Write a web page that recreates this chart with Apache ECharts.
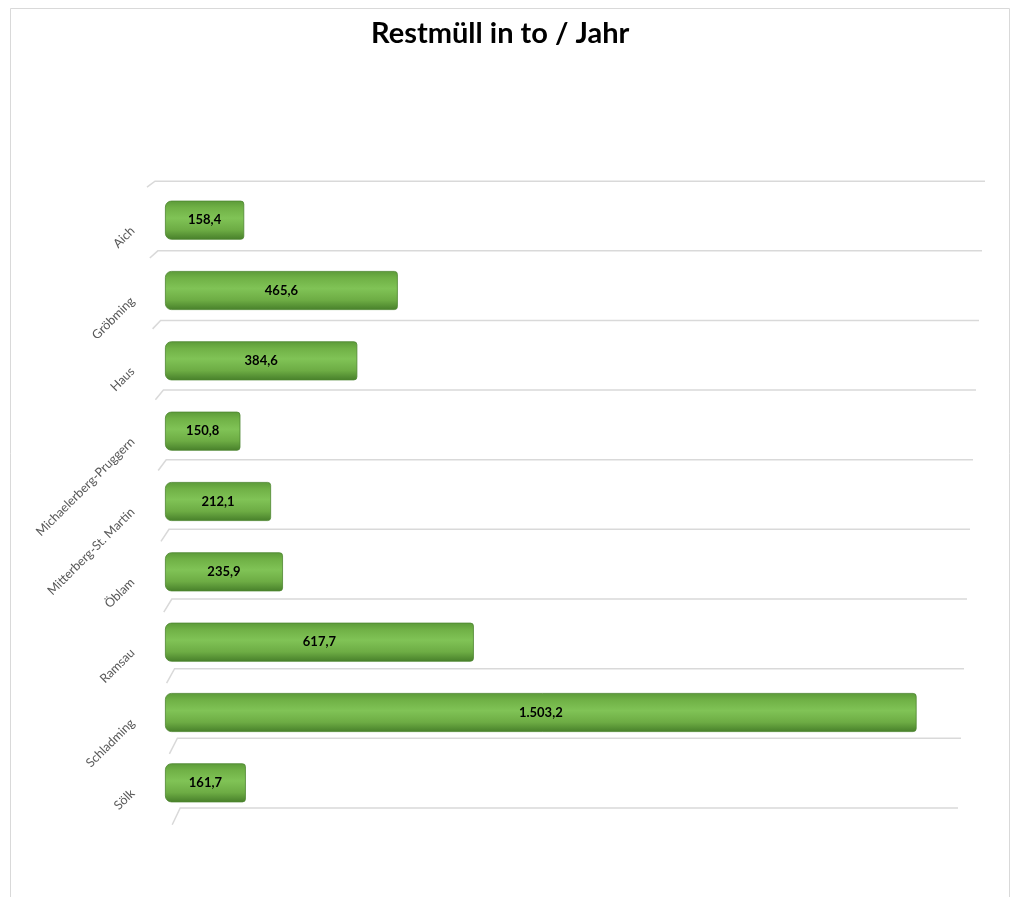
<!DOCTYPE html>
<html>
<head>
<meta charset="utf-8">
<title>Restmüll in to / Jahr</title>
<script src="https://cdn.jsdelivr.net/npm/echarts@6/dist/echarts.min.js"></script>
<style>
  html, body { margin: 0; padding: 0; background: #ffffff; }
  #chart { width: 1012px; height: 897px; }
</style>
</head>
<body>
<div id="chart"></div>
<script>
// Gemeinden (categories) and yearly residual waste in tonnes
const gemeinden = [
  'Aich', 'Gröbming', 'Haus', 'Michaelerberg-Pruggern', 'Mitterberg-St. Martin',
  'Öblam', 'Ramsau', 'Schladming', 'Sölk'
];
const restmuell = [158.4, 465.6, 384.6, 150.8, 212.1, 235.9, 617.7, 1503.2, 161.7];
const titelText = 'Restmüll in to / Jahr';

// German number format: thousands '.', decimals ','
function fmtDe(v) {
  const parts = v.toFixed(1).split('.');
  parts[0] = parts[0].replace(/\B(?=(\d{3})+(?!\d))/g, '.');
  return parts.join(',');
}

const chart = echarts.init(document.getElementById('chart'), null, { renderer: 'canvas' });

// Floor lines between categories: short slanted stub on the left, then horizontal.
// Lines sit slightly above the band boundaries (3D floor look), more so further down.
function renderGridLines(params, api) {
  const idx = api.value(1);
  const center = api.coord([0, idx]);
  const band = api.size([0, 1])[1];
  const x0 = params.coordSys.x;
  const xEnd = params.coordSys.x + params.coordSys.width;
  const lines = [];
  const tops = [center[1] - band / 2];
  if (idx === gemeinden.length - 1) tops.push(center[1] + band / 2);
  tops.forEach(function (yb, k) {
    const row = idx + k;
    const y = yb - (3.8 + 0.7 * row);
    const shift = -10 + row * 2.8;
    const slantH = 6 + row * 1.2;
    const slantW = 8;
    lines.push({
      type: 'polyline',
      shape: {
        points: [
          [x0 + shift - slantW, y + slantH],
          [x0 + shift, y],
          [xEnd + 20 - row * 3, y]
        ]
      },
      style: { stroke: '#d9d9d9', lineWidth: 1.5, fill: null },
      silent: true
    });
  });
  return { type: 'group', children: lines };
}

chart.setOption({
  animation: false,
  backgroundColor: '#ffffff',
  title: {
    text: titelText,
    left: 366,
    top: 14,
    textStyle: {
      fontFamily: 'Lato',
      fontWeight: 'bold',
      fontSize: 29,
      color: '#000000'
    }
  },
  graphic: [{
    type: 'rect',
    shape: { x: 10.5, y: 8.5, width: 999, height: 900 },
    style: { fill: null, stroke: '#d9d9d9', lineWidth: 1 },
    silent: true,
    z: -10
  }],
  grid: {
    left: 165,
    right: 47,
    top: 185,
    bottom: 897 - 818
  },
  xAxis: {
    type: 'value',
    min: 0,
    max: 1600,
    show: false,
    splitLine: { show: false }
  },
  yAxis: {
    type: 'category',
    data: gemeinden,
    inverse: true,
    axisLine: { show: false },
    axisTick: { show: false },
    splitLine: { show: false },
    axisLabel: {
      rotate: 45,
      margin: 24,
      padding: [0, 12, 0, 0],
      color: '#595959',
      fontFamily: 'Lato',
      fontSize: 12.5
    }
  },
  series: [
    {
      type: 'custom',
      renderItem: renderGridLines,
      data: gemeinden.map(function (g, i) { return [0, i]; }),
      encode: { x: 0, y: 1 },
      z: 1,
      silent: true
    },
    {
      type: 'bar',
      data: restmuell,
      barWidth: 39,
      z: 5,
      itemStyle: {
        color: new echarts.graphic.LinearGradient(0, 0, 0, 1, [
          { offset: 0, color: '#5c9a39' },
          { offset: 0.18, color: '#70b146' },
          { offset: 0.45, color: '#80c356' },
          { offset: 0.75, color: '#6dac44' },
          { offset: 1, color: '#477f2a' }
        ]),
        borderColor: '#4c8530',
        borderWidth: 0.8,
        borderRadius: [6, 3, 3, 6]
      },
      label: {
        show: true,
        position: 'inside',
        formatter: function (p) { return fmtDe(p.value); },
        color: '#000000',
        fontFamily: 'Lato',
        fontWeight: 'bold',
        fontSize: 13
      }
    }
  ]
});
</script>
</body>
</html>
